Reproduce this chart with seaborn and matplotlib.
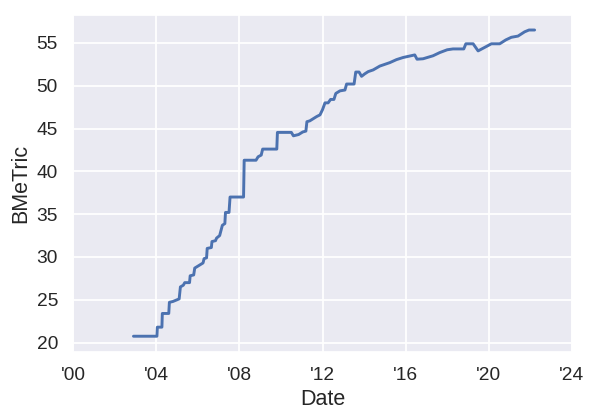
import matplotlib
matplotlib.use("Agg")
import matplotlib.pyplot as plt
import seaborn as sns
import pandas as pd

# Data (decimal year, metric value)
years = [2002.9, 2004.03, 2004.05, 2004.27, 2004.29, 2004.6, 2004.63, 2004.8, 2005.0, 2005.1,
         2005.16, 2005.3, 2005.37, 2005.6, 2005.63, 2005.8, 2005.85, 2006.05, 2006.25, 2006.3,
         2006.42, 2006.45, 2006.65, 2006.68, 2006.85, 2006.9, 2007.05, 2007.18, 2007.3, 2007.33,
         2007.5, 2007.55, 2008.2, 2008.23, 2008.8, 2008.9, 2009.05, 2009.12, 2009.8, 2009.83,
         2010.5, 2010.6, 2010.85, 2011.05, 2011.2, 2011.25, 2011.39, 2011.72, 2011.88, 2012.0,
         2012.12, 2012.27, 2012.39, 2012.55, 2012.64, 2012.84, 2013.08, 2013.16, 2013.52, 2013.6,
         2013.76, 2013.88, 2014.04, 2014.2, 2014.44, 2014.76, 2015.24, 2015.56, 2015.88, 2016.44,
         2016.55, 2016.84, 2017.32, 2017.64, 2018.0, 2018.28, 2018.8, 2018.9, 2019.25, 2019.49,
         2020.13, 2020.53, 2020.82, 2021.09, 2021.41, 2021.57, 2021.73, 2021.94, 2022.21]
bmetric = [20.74, 20.74, 21.8, 21.8, 23.4, 23.4, 24.7, 24.8, 25.0, 25.1,
           26.5, 26.7, 27.0, 27.0, 27.8, 27.9, 28.7, 29.0, 29.3, 29.8,
           29.9, 31.0, 31.1, 31.8, 31.9, 32.2, 32.5, 33.7, 33.9, 35.2,
           35.2, 37.0, 37.0, 41.3, 41.3, 41.7, 41.9, 42.6, 42.6, 44.55,
           44.55, 44.15, 44.3, 44.6, 44.7, 45.8, 45.9, 46.4, 46.6, 47.2,
           48.0, 48.0, 48.4, 48.4, 49.1, 49.4, 49.5, 50.2, 50.2, 51.6,
           51.6, 51.1, 51.4, 51.65, 51.85, 52.3, 52.7, 53.05, 53.3, 53.6,
           53.1, 53.15, 53.5, 53.87, 54.2, 54.3, 54.3, 54.9, 54.9, 54.07,
           54.9, 54.9, 55.35, 55.66, 55.8, 56.05, 56.3, 56.51, 56.51]

x_ticks = [2000, 2004, 2008, 2012, 2016, 2020, 2024]
x_tick_labels = ["'00", "'04", "'08", "'12", "'16", "'20", "'24"]
y_ticks = [20, 25, 30, 35, 40, 45, 50, 55]

sns.set_theme(style="darkgrid")
plt.rcParams['font.family'] = ['Liberation Sans', 'DejaVu Sans']

df = pd.DataFrame({"Date": years, "BMeTric": bmetric})

fig, ax = plt.subplots(figsize=(6, 4.2), dpi=100)
fig.subplots_adjust(left=0.122, right=0.953, bottom=0.163, top=0.965)

sns.lineplot(data=df, x="Date", y="BMeTric", ax=ax, color="#4C72B0",
             linewidth=2.1, sort=False)

ax.set_xlim(2000, 2024)
ax.set_xticks(x_ticks)
ax.set_xticklabels(x_tick_labels)
ax.set_yticks(y_ticks)
ax.tick_params(labelsize=13.8, colors=".15", pad=5)
ax.set_xlabel("Date", fontsize=15.5, color=".15")
ax.set_ylabel("BMeTric", fontsize=15.5, color=".15")
ax.grid(linewidth=1.3)

fig.savefig("out.png", dpi=100)
